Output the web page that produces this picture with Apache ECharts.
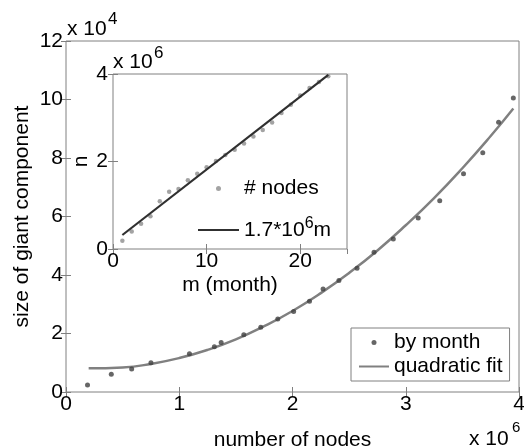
<!DOCTYPE html>
<html><head><meta charset="utf-8">
<script src="https://cdn.jsdelivr.net/npm/echarts@6/dist/echarts.min.js"></script>
<style>html,body{margin:0;padding:0;background:#fff}#c{width:524px;height:447px}</style>
</head><body><div id="c"></div>
<script>
// number of nodes per month (x 10^6)
const nodesMillions = [0.19,0.40,0.58,0.75,1.09,1.31,1.37,1.57,1.72,1.87,2.01,2.15,2.27,2.41,2.57,2.72,2.89,3.11,3.30,3.51,3.68,3.82,3.95];
// size of giant component by month (x 10^4)
const giantSize = [0.24,0.61,0.79,1.00,1.31,1.55,1.69,1.96,2.21,2.50,2.75,3.10,3.52,3.81,4.23,4.78,5.23,5.95,6.54,7.46,8.18,9.22,10.05];
// month index
const months = [1,2,3,4,5,6,7,8,9,10,11,12,13,14,15,16,17,18,19,20,21,22,23];
// quadratic fit curve
const fitX = [0.2,0.5,0.75,1.0,1.25,1.5,1.75,2.0,2.25,2.5,2.75,3.0,3.25,3.5,3.75,3.95];
const fitY = [0.81,0.84,0.96,1.16,1.44,1.80,2.25,2.77,3.38,4.07,4.84,5.70,6.63,7.65,8.75,9.69];
// linear fit in inset
const linX = [1,23];
const linY = [0.32,3.98];
// tick labels
const mainXTicks = ['0','1','2','3','4'];
const mainYTicks = ['0','2','4','6','8','10','12'];

const F = 'Liberation Sans, Arial, Helvetica, sans-serif';
const FS = 21;
const AX = '#808080';

const chart = echarts.init(document.getElementById('c'), null, {renderer:'canvas'});

function ax(extra){ return Object.assign({
  axisLine:{show:false},
  splitLine:{show:false},
  nameMoveOverlap:false,
  axisTick:{show:true,inside:true,length:5,lineStyle:{color:AX}},
  axisLabel:{show:false}
}, extra); }

const option = {
  animation:false,
  backgroundColor:'#fff',
  grid:[
    {left:66,right:5,top:41,bottom:55,show:true,borderColor:AX,borderWidth:1,backgroundColor:'#fff',z:0,
     containLabel:false,outerBoundsMode:'none'},
    {left:113,top:74,width:234,height:175,show:true,borderColor:AX,borderWidth:1,backgroundColor:'#fff',z:5,
     containLabel:false,outerBoundsMode:'none'}
  ],
  xAxis:[
    ax({gridIndex:0,type:'value',min:0,max:4,interval:1,position:'bottom',
      axisLabel:{show:true,color:'#000',fontFamily:F,fontSize:FS,margin:2,formatter:v=>mainXTicks[Math.round(v)]},
      name:'number of nodes',nameLocation:'middle',nameGap:38,nameTextStyle:{color:'#000',fontFamily:F,fontSize:FS}}),
    ax({gridIndex:0,type:'value',min:0,max:4,interval:1,position:'top'}),
    ax({gridIndex:1,type:'value',min:0,max:25,interval:10,position:'bottom',z:6,
      axisLabel:{show:true,color:'#000',fontFamily:F,fontSize:FS,margin:2,showMaxLabel:false,formatter:v=>v===25?'':String(v)},
      name:'m (month)',nameLocation:'middle',nameGap:26,nameTextStyle:{color:'#000',fontFamily:F,fontSize:FS}}),
    ax({gridIndex:1,type:'value',min:0,max:25,interval:10,position:'top',z:6})
  ],
  yAxis:[
    ax({gridIndex:0,type:'value',min:0,max:12,interval:2,position:'left',
      axisLabel:{show:true,color:'#000',fontFamily:F,fontSize:FS,margin:3,formatter:v=>mainYTicks[Math.round(v/2)]},
      name:'size of giant component',nameLocation:'middle',nameGap:33,nameTextStyle:{color:'#000',fontFamily:F,fontSize:FS}}),
    ax({gridIndex:0,type:'value',min:0,max:12,interval:2,position:'right'}),
    ax({gridIndex:1,type:'value',min:0,max:4,interval:2,position:'left',z:6,
      axisLabel:{show:true,color:'#000',fontFamily:F,fontSize:FS,margin:5},
      name:'n',nameLocation:'middle',nameGap:21,nameTextStyle:{color:'#000',fontFamily:F,fontSize:FS}}),
    ax({gridIndex:1,type:'value',min:0,max:4,interval:2,position:'right',z:6})
  ],
  legend:[
    {left:351,top:328,orient:'vertical',padding:[4,7,4,7],itemGap:3,itemWidth:30,itemHeight:5,
     borderColor:AX,borderWidth:1,backgroundColor:'#fff',
     textStyle:{color:'#000',fontFamily:F,fontSize:FS},
     data:[{name:'by month',icon:'circle',itemStyle:{color:'#404040'}},
           {name:'quadratic fit',itemStyle:{opacity:0}}],
     selectedMode:false},
    {left:197,top:178,orient:'vertical',padding:0,itemGap:14,itemWidth:41,itemHeight:5,z:8,
     textStyle:{color:'#000',fontFamily:F,fontSize:FS,
       rich:{a:{fontFamily:F,fontSize:FS,color:'#000',verticalAlign:'bottom',lineHeight:22},
             s:{fontFamily:F,fontSize:16,color:'#000',verticalAlign:'bottom',lineHeight:18,padding:[3,0,9,0]}}},
     formatter:function(n){ return n==='lin' ? '{a|1.7*10}{s|6}{a|m}' : n; },
     data:[{name:'# nodes',icon:'circle',itemStyle:{color:'#8c8c8c'}},
           {name:'lin',itemStyle:{opacity:0}}],
     selectedMode:false}
  ],
  graphic:[
    {type:'text',left:67,top:19,style:{text:'x 10',fontFamily:F,fontSize:FS,fill:'#000'}},
    {type:'text',left:108,top:11,style:{text:'4',fontFamily:F,fontSize:17,fill:'#000'}},
    {type:'text',left:113,top:52,z:10,style:{text:'x 10',fontFamily:F,fontSize:FS,fill:'#000'}},
    {type:'text',left:154,top:45,z:10,style:{text:'6',fontFamily:F,fontSize:17,fill:'#000'}},
    {type:'text',left:469,top:429,style:{text:'x 10',fontFamily:F,fontSize:FS,fill:'#000'}},
    {type:'text',left:512,top:420,style:{text:'6',fontFamily:F,fontSize:15,fill:'#000'}}
  ],
  series:[
    {name:'by month',type:'scatter',xAxisIndex:0,yAxisIndex:0,symbol:'circle',symbolSize:5,
     itemStyle:{color:'#404040'},data:nodesMillions.map((x,i)=>[x,giantSize[i]]),z:3},
    {name:'quadratic fit',type:'line',xAxisIndex:0,yAxisIndex:0,showSymbol:false,symbol:'none',smooth:true,
     lineStyle:{color:'#808080',width:2.5},itemStyle:{color:'#808080'},data:fitX.map((x,i)=>[x,fitY[i]]),z:2},
    {name:'# nodes',type:'scatter',xAxisIndex:2,yAxisIndex:2,symbol:'circle',symbolSize:4.5,
     itemStyle:{color:'#8c8c8c'},data:months.map((m,i)=>[m,nodesMillions[i]]),z:7},
    {name:'lin',type:'line',xAxisIndex:2,yAxisIndex:2,showSymbol:false,symbol:'none',
     lineStyle:{color:'#303030',width:2.2},itemStyle:{color:'#303030'},data:linX.map((x,i)=>[x,linY[i]]),z:8}
  ]
};
chart.setOption(option);
</script></body></html>
